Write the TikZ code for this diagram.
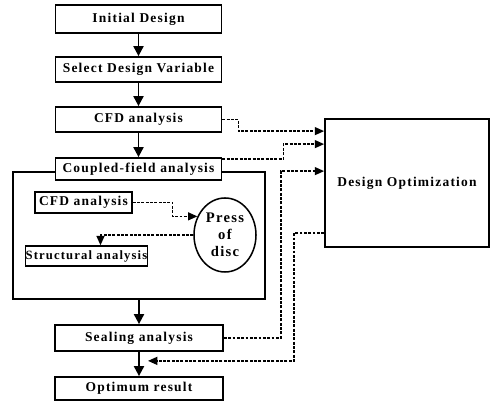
\documentclass[tikz,border=0pt]{standalone}
\usepackage{fontspec}
\setmainfont{Liberation Serif}[LetterSpace=9]
\usetikzlibrary{arrows.meta, calc, positioning, shapes.geometric}

\begin{document}
\begin{tikzpicture}[x=0.03cm, y=-0.03cm,
    every node/.style={font=\fontsize{11.5}{11}\selectfont\bfseries},
    stepbox/.style={draw, line width=1.5pt, inner sep=0pt, fill=white, minimum width=4.98cm, minimum height=0.75cm},
    subbox/.style={draw, line width=1.3pt, inner sep=0pt, fill=white, minimum height=0.62cm},
    flow/.style={-{Triangle[length=0.3cm, width=0.3cm]}, line width=1.6pt},
    link/.style={-{Triangle[length=0.28cm, width=0.24cm]}, line width=1.1pt, dash pattern=on 2.4pt off 1.3pt}]
    \useasboundingbox (0,0) rectangle (491,403);

    % Main chain
    \node[stepbox, minimum height=0.84cm] (Init) at (138.5,19) {Initial Design};
    \node[stepbox] (Select) at (138.5,69.5) {Select Design Variable};
    \node[stepbox] (CFD) at (138.5,119.5) {CFD analysis};

    % Coupled-field block
    \node[draw, line width=1.5pt, minimum width=7.56cm, minimum height=3.81cm] (Coupled) at (139,235.5) {};
    \node[stepbox, minimum height=0.66cm] (CoupledLabel) at (138.5,169) {Coupled-field analysis};
    \node[subbox, minimum width=2.91cm] (CFDin) at (83.5,202.5) {CFD analysis};
    \node[draw, ellipse, line width=1.3pt, inner sep=0pt, minimum width=1.86cm, minimum height=2.22cm, align=center,
        font=\fontsize{12.5}{14.5}\selectfont\bfseries] (Press) at (225,235) {Press\\of\\disc};
    \node[subbox, minimum width=3.57cm, minimum height=0.6cm, font=\fontsize{10.8}{10}\selectfont\bfseries] (Struct) at (86.5,256) {Structural analysis};

    % Result boxes
    \node[stepbox, minimum width=5.04cm, minimum height=0.78cm] (Seal) at (139,338) {Sealing analysis};
    \node[stepbox, minimum width=5.04cm, minimum height=0.69cm] (Result) at (139,388.5) {Optimum result};

    % Optimizer
    \node[draw, line width=1.5pt, minimum width=4.92cm, minimum height=3.84cm] (Opt) at (407,183) {Design Optimization};

    % Solid arrows
    \draw[flow] (Init) -- (Select);
    \draw[flow] (Select) -- (CFD);
    \draw[flow] (CFD) -- (CoupledLabel);
    \draw[flow] (Coupled) -- (Seal);
    \draw[flow] (Seal) -- (Result);

    % Dashed links inside the block
    \draw[link] (CFDin.east) -- ++(40,0) |- (Press.146);
    \draw[link] (Press.west) -| ($(Struct.north)+(14,0)$);

    % Dashed links to the optimizer
    \coordinate (Merge) at ($(Seal.south)+(9,9)$);
    \draw[link] (CFD.east) -- ++(16,0) |- ($(Opt.north west)+(0,13)$);
    \draw[link] ($(CoupledLabel.north east)+(0,2)$) -- ++(61,0) |- ($(Opt.north west)+(0,26)$);
    \draw[link] (Seal.east) -- ++(57,0) |- ($(Opt.north west)+(0,53)$);
    \draw[link] ($(Opt.west)+(0,50)$) -- ++(-30,0) |- (Merge);
\end{tikzpicture}
\end{document}
